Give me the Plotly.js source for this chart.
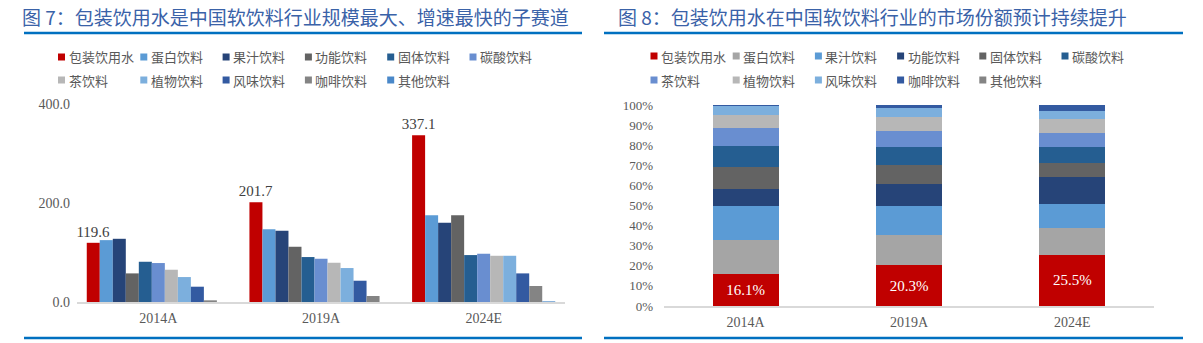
<!DOCTYPE html>
<html><head><meta charset="utf-8">
<script src="https://cdn.plot.ly/plotly-3.0.1.min.js"></script>
<style>
html,body{margin:0;padding:0;background:#fff;width:1203px;height:343px;overflow:hidden}
#left{position:absolute;left:0;top:0;width:600px;height:343px}
#right{position:absolute;left:600px;top:0;width:603px;height:343px}
</style></head><body>
<div id="left"></div><div id="right"></div>
<script>
// ---------- data ----------
const years = ['2014A', '2019A', '2024E'];
const seriesNames = ['包装饮用水','蛋白饮料','果汁饮料','功能饮料','固体饮料','碳酸饮料','茶饮料','植物饮料','风味饮料','咖啡饮料','其他饮料'];

// Figure 7: market size by segment
const sizeWater       = [119.6, 201.7, 337.1];
const sizeProtein     = [125.0, 147.2, 175.5];
const sizeJuice       = [127.7, 143.9, 160.0];
const sizeEnergy      = [57.8, 111.6, 175.5];
const sizeSolid       = [81.3, 90.8, 94.8];
const sizeCarbonated  = [78.7, 87.4, 97.5];
const sizeTea         = [65.2, 79.3, 93.4];
const sizePlant       = [50.4, 68.6, 93.4];
const sizeFlavored    = [30.9, 43.0, 57.8];
const sizeCoffee      = [3.4, 12.1, 32.3];
const sizeOther       = [0.0, 0.0, 1.3];

// Figure 8: market share (%) by segment
const shareWater      = [16.1, 20.3, 25.5];
const shareProtein    = [16.6, 15.0, 13.1];
const shareJuice      = [17.3, 14.4, 12.2];
const shareEnergy     = [8.1, 11.2, 13.4];
const shareSolid      = [10.9, 9.2, 6.9];
const shareCarbonated = [10.7, 9.1, 7.9];
const shareTea        = [8.7, 7.8, 7.0];
const sharePlant      = [6.5, 6.9, 6.9];
const shareFlavored   = [4.5, 4.6, 4.3];
const shareCoffee     = [0.4, 1.3, 2.6];
const shareOther      = [0.2, 0.2, 0.2];

const yTicksLeft = [0, 200, 400];
const yTicksRight = [0,10,20,30,40,50,60,70,80,90,100];
const yTickTextRight = ['0%','10%','20%','30%','40%','50%','60%','70%','80%','90%','100%'];

// ---------- styles ----------
const leftColors  = ['#C00000','#5B9BD5','#264478','#636363','#255E91','#698ED0','#B7B7B7','#7CAFDD','#335AA1','#848484','#4A88C9'];
const rightColors = ['#C00000','#A5A5A5','#5B9BD5','#264478','#636363','#255E91','#698ED0','#B7B7B7','#7CAFDD','#335AA1','#848484'];
const SERIF = '"Liberation Serif", "DejaVu Serif", serif';
const SANS = '"Noto Sans CJK SC", "Noto Sans", sans-serif';
const TXT = '#595959';
const BLUE_LINE = '#0070C0';
const TITLE_COLOR = '#3A62A8';

const sizeSeries  = [sizeWater,sizeProtein,sizeJuice,sizeEnergy,sizeSolid,sizeCarbonated,sizeTea,sizePlant,sizeFlavored,sizeCoffee,sizeOther];
const shareSeries = [shareWater,shareProtein,shareJuice,shareEnergy,shareSolid,shareCarbonated,shareTea,sharePlant,shareFlavored,shareCoffee,shareOther];

function conv(fw, fh, m) {
  const W = fw - m.l - m.r, H = fh - m.t - m.b;
  return { x: px => (px - m.l) / W, y: py => (fh - m.b - py) / H };
}

function legendItems(c, x0, step, rows, colors) {
  const shapes = [], anns = [];
  seriesNames.forEach((n, i) => {
    const col = i % 6, row = Math.floor(i / 6);
    const cx = x0 + col * step, cy = rows[row];
    shapes.push({type:'rect', xref:'paper', yref:'paper',
      x0: c.x(cx - 3.5), x1: c.x(cx + 3.5), y0: c.y(cy + 3.5), y1: c.y(cy - 3.5),
      fillcolor: colors[i], line:{width:0}});
    anns.push({xref:'paper', yref:'paper', x: c.x(cx + 5), y: c.y(cy), xanchor:'left', yanchor:'middle',
      text: n, showarrow:false, font:{family:SANS, size:13, color:TXT}});
  });
  return {shapes, anns};
}

function frameShapes(c, xa, xb) {
  return [
    {type:'line', xref:'paper', yref:'paper', x0:c.x(xa), x1:c.x(xb), y0:c.y(33), y1:c.y(33), line:{color:BLUE_LINE, width:2.5}},
    {type:'line', xref:'paper', yref:'paper', x0:c.x(xa), x1:c.x(xb), y0:c.y(338), y1:c.y(338), line:{color:BLUE_LINE, width:2.5}}
  ];
}

// ---------- left chart ----------
(function(){
  const fw = 600, fh = 343, m = {l:77, r:35, t:104, b:41};
  const c = conv(fw, fh, m);
  const traces = seriesNames.map((n, i) => {
    const t = {type:'bar', name:n, x:years, y:sizeSeries[i], marker:{color:leftColors[i], line:{width:0}}, showlegend:false};
    if (i === 0) {
      t.text = sizeSeries[i].map(v => v.toFixed(1));
      t.textposition = 'outside';
      t.textfont = {family:SERIF, size:15, color:'#404040'};
      t.cliponaxis = false;
      t.constraintext = 'none';
    }
    return t;
  });
  const lg = legendItems(c, 61.5, 82.3, [57, 80], leftColors);
  const layout = {
    width: fw, height: fh, margin: m, paper_bgcolor:'#fff', plot_bgcolor:'#fff',
    barmode:'group', bargap:0.12, bargroupgap:0,
    title:{text:'图 7：包装饮用水是中国软饮料行业规模最大、增速最快的子赛道', x:22/fw, xref:'container', xanchor:'left',
      y:1-18/fh, yref:'container', yanchor:'middle', font:{family:SANS, size:19, color:TITLE_COLOR}},
    xaxis:{type:'category', showline:true, linecolor:'#D9D9D9', linewidth:1.5, ticks:'', showgrid:false,
      tickfont:{family:SERIF, size:14, color:TXT}, ticklabelstandoff:3},
    yaxis:{range:[0,400], tickvals:yTicksLeft, tickformat:'.1f', showgrid:false, zeroline:false, showline:false, ticks:'',
      tickfont:{family:SERIF, size:14, color:TXT}, ticklabelstandoff:6},
    shapes: frameShapes(c, 24, 582).concat(lg.shapes),
    annotations: lg.anns,
    showlegend:false
  };
  Plotly.newPlot('left', traces, layout, {staticPlot:true, displayModeBar:false});
})();

// ---------- right chart ----------
(function(){
  const fw = 603, fh = 343, m = {l:64, r:49, t:105, b:37};
  const c = conv(fw, fh, m);
  const traces = seriesNames.map((n, i) => {
    const t = {type:'bar', name:n, x:years, y:shareSeries[i], marker:{color:rightColors[i], line:{width:0}}, showlegend:false};
    if (i === 0) {
      t.text = shareSeries[i].map(v => v.toFixed(1) + '%');
      t.textposition = 'inside';
      t.insidetextanchor = 'middle';
      t.textfont = {family:SERIF, size:15, color:'#FFFFFF'};
      t.constraintext = 'none';
    }
    return t;
  });
  const lg = legendItems(c, 54, 82.2, [56, 80], rightColors);
  const layout = {
    width: fw, height: fh, margin: m, paper_bgcolor:'#fff', plot_bgcolor:'#fff',
    barmode:'stack', bargap:0.595,
    title:{text:'图 8：包装饮用水在中国软饮料行业的市场份额预计持续提升', x:18/fw, xref:'container', xanchor:'left',
      y:1-18/fh, yref:'container', yanchor:'middle', font:{family:SANS, size:19, color:TITLE_COLOR}},
    xaxis:{type:'category', showline:true, linecolor:'#D9D9D9', linewidth:1.5, ticks:'', showgrid:false,
      tickfont:{family:SERIF, size:14, color:TXT}, ticklabelstandoff:3},
    yaxis:{range:[0,100], tickmode:'array', tickvals:yTicksRight, ticktext:yTickTextRight, showgrid:false, zeroline:false, showline:false, ticks:'',
      tickfont:{family:SERIF, size:13, color:TXT}, ticklabelstandoff:10},
    shapes: frameShapes(c, 4, 583).concat(lg.shapes),
    annotations: lg.anns,
    showlegend:false
  };
  Plotly.newPlot('right', traces, layout, {staticPlot:true, displayModeBar:false});
})();
</script>
</body></html>
